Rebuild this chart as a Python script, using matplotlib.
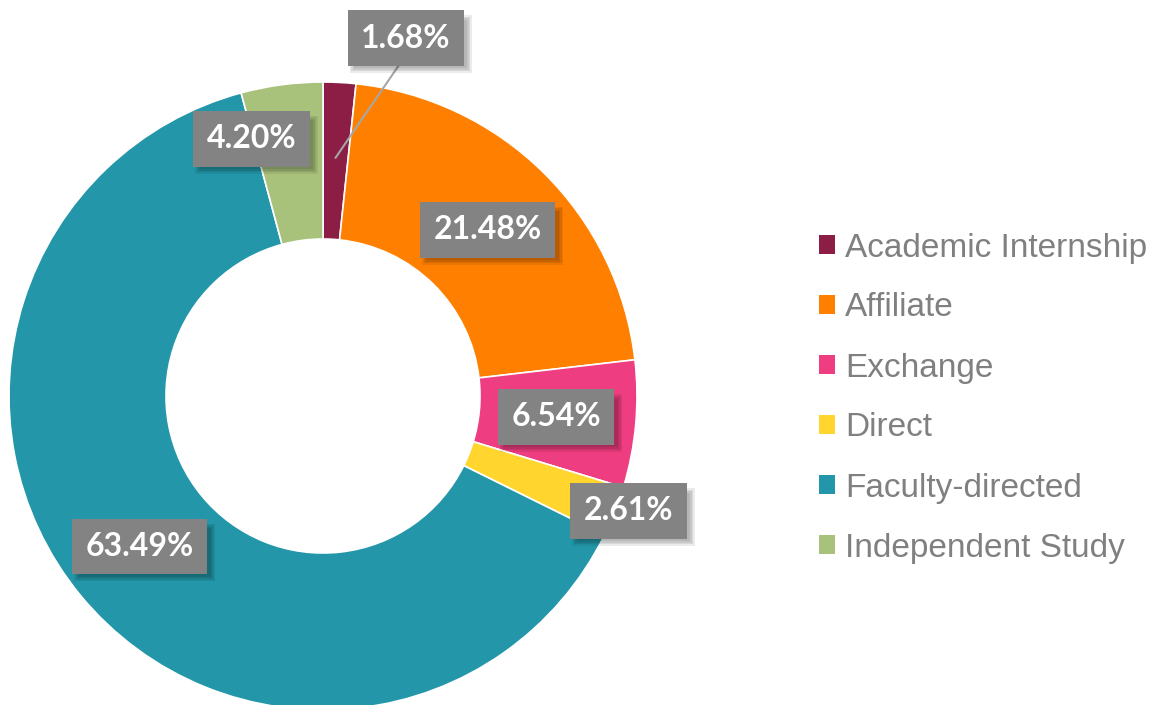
import matplotlib
matplotlib.use("Agg")
import matplotlib.pyplot as plt
from matplotlib.patches import Patch, Rectangle
import numpy as np

categories = ["Academic Internship", "Affiliate", "Exchange", "Direct",
              "Faculty-directed", "Independent Study"]
values = [1.68, 21.48, 6.54, 2.61, 63.49, 4.20]
labels = ["1.68%", "21.48%", "6.54%", "2.61%", "63.49%", "4.20%"]
colors = ["#8C1D45", "#FF8000", "#EE3D80", "#FFD52E", "#2397A9", "#A9C27B"]

W, H = 1156, 705
fig = plt.figure(figsize=(W / 100, H / 100), dpi=100)
ax = fig.add_axes([0, 0, 1, 1])

cx, cy, R = 323, 705 - 396, 314
wedges, _ = ax.pie(values, colors=colors, startangle=90, counterclock=False,
                   center=(cx, cy), radius=R,
                   wedgeprops=dict(width=R * 0.5, edgecolor="white", linewidth=1.2),
                   frame=True)
ax.set_xlim(0, W)
ax.set_ylim(0, H)
ax.set_aspect("equal")
ax.axis("off")

# label positions: (radius fraction, angle offset deg) relative to wedge mid
adj = {0: (1.17, -10), 1: (0.745, 0), 2: (0.745, 0), 3: (1.04, 1),
       4: (0.755, 0), 5: (0.85, 8)}
texts = []
for i, w in enumerate(wedges):
    mid = np.deg2rad((w.theta1 + w.theta2) / 2 + adj[i][1])
    r = R * adj[i][0]
    x, y = cx + r * np.cos(mid), cy + r * np.sin(mid)
    if i == 0:
        m0 = np.deg2rad((w.theta1 + w.theta2) / 2)
        ax.plot([cx + R * 0.76 * np.cos(m0), x - 2], [cy + R * 0.76 * np.sin(m0), y - 20],
                color="#A6A6A6", lw=1.5, zorder=3)
    t = ax.text(x, y, labels[i], fontsize=23, fontweight="bold", family="Lato",
                color="white", ha="center", va="center", zorder=6,
                bbox=dict(boxstyle="square,pad=0.42", facecolor="#838383",
                          edgecolor="none"))
    texts.append(t)

fig.canvas.draw()
inv = ax.transData.inverted()
for t in texts:
    bb = t.get_bbox_patch().get_window_extent()
    (x0, y0), (x1, y1) = inv.transform([[bb.x0, bb.y0], [bb.x1, bb.y1]])
    # soft shadow
    for k in range(4):
        g = 1.5 * k
        ax.add_patch(Rectangle((x0 + 2 + g, y0 - 7 + g), (x1 - x0) + 6 - 2 * g,
                               (y1 - y0) + 2 - 2 * g,
                               facecolor="black", alpha=0.08, edgecolor="none", zorder=5))

handles = [Patch(facecolor=c, edgecolor="none") for c in colors]
leg = fig.legend(handles, categories, loc="center left",
                 bbox_to_anchor=(819 / W, 1 - 398 / H), frameon=False,
                 prop=dict(family="Liberation Sans", size=24),
                 labelcolor="#808080", handlelength=0.48, handleheight=0.48,
                 handletextpad=0.3, labelspacing=0.87, borderaxespad=0, borderpad=0)

fig.savefig("out.png", dpi=100, facecolor="white")
